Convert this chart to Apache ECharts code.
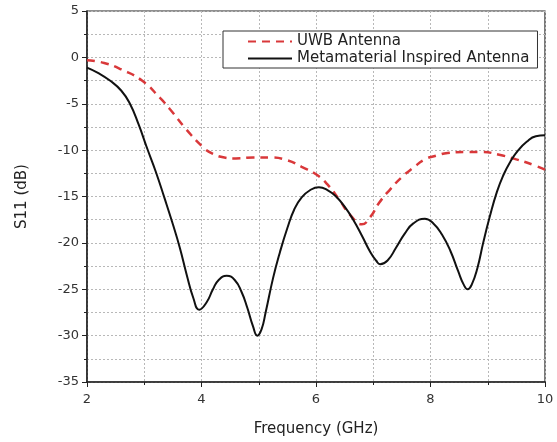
<!DOCTYPE html>
<html>
<head>
<meta charset="utf-8">
<script src="https://cdn.jsdelivr.net/npm/echarts@6/dist/echarts.min.js"></script>
<style>html,body{margin:0;padding:0;background:#fff;}#c{width:557px;height:442px;}</style>
</head>
<body>
<div id="c"></div>
<script>
var uwbFreq = [2.0,2.3,2.6,2.96,3.28,3.45,3.74,4.03,4.2,4.4,4.6,4.9,5.2,5.5,5.75,6.0,6.2,6.4,6.6,6.8,6.95,7.1,7.3,7.5,7.7,7.9,8.1,8.3,8.6,8.9,9.2,9.5,9.8,10.0];
var uwbS11 = [-0.3,-0.6,-1.3,-2.5,-4.4,-5.6,-7.8,-9.7,-10.4,-10.8,-10.9,-10.8,-10.8,-11.1,-11.8,-12.6,-13.7,-15.3,-17.0,-18.0,-17.2,-15.7,-14.2,-12.9,-11.9,-11.0,-10.6,-10.3,-10.2,-10.2,-10.5,-11.0,-11.6,-12.1];
var metaFreq = [2.0,2.2,2.4,2.6,2.75,2.9,3.05,3.2,3.35,3.5,3.62,3.74,3.86,3.96,4.09,4.2,4.3,4.44,4.58,4.7,4.8,4.9,4.975,5.05,5.12,5.25,5.37,5.5,5.62,5.75,5.9,6.05,6.2,6.35,6.5,6.65,6.8,6.95,7.05,7.12,7.25,7.4,7.55,7.7,7.9,8.05,8.2,8.35,8.48,8.58,8.65,8.72,8.82,8.92,9.03,9.16,9.28,9.39,9.52,9.68,9.84,10.0];
var metaS11 = [-1.1,-1.7,-2.5,-3.6,-5.0,-7.2,-9.8,-12.3,-15.1,-18.0,-20.5,-23.4,-26.0,-27.2,-26.4,-25.0,-24.0,-23.55,-24.0,-25.3,-27.0,-29.0,-30.0,-29.3,-27.5,-23.8,-21.0,-18.4,-16.4,-15.1,-14.3,-14.0,-14.3,-15.0,-16.1,-17.5,-19.2,-21.0,-21.9,-22.3,-21.9,-20.5,-19.0,-17.9,-17.4,-17.9,-19.1,-20.9,-23.0,-24.5,-25.0,-24.5,-22.7,-20.0,-17.3,-14.5,-12.6,-11.3,-10.1,-9.1,-8.5,-8.4];
var seriesNames = ['UWB Antenna','Metamaterial Inspired Antenna'];

function pairs(xs, ys){ return xs.map(function(x,i){ return [x, ys[i]]; }); }

var chart = echarts.init(document.getElementById('c'), null, {renderer:'canvas'});
var font = 'DejaVu Sans, Verdana, sans-serif';
var gridLine = {show:true,lineStyle:{color:'#b8b8b8',type:[2,2],width:1}};
chart.setOption({
  animation:false,
  backgroundColor:'#fff',
  textStyle:{fontFamily:font},
  grid:{left:87,right:12,top:11,bottom:58,show:true,borderColor:'#222',borderWidth:1.2,backgroundColor:'transparent'},
  legend:{
    show:true, orient:'vertical', left:223, top:31, width:316,
    backgroundColor:'#fff', borderColor:'#333', borderWidth:1,
    padding:[3,8,2,24], itemGap:2, itemWidth:44, itemHeight:17,
    itemStyle:{opacity:0},
    textStyle:{fontSize:15, color:'#222', fontFamily:font},
    data:[{name:seriesNames[0]},{name:seriesNames[1]}]
  },
  xAxis:{
    type:'value', min:2, max:10, interval:2,
    name:'Frequency (GHz)', nameLocation:'middle', nameGap:40,
    nameTextStyle:{fontSize:15,color:'#222',fontFamily:font},
    axisLine:{show:true,onZero:false,lineStyle:{color:'#222',width:1.5}},
    axisTick:{show:true,length:5,lineStyle:{color:'#222'}},
    minorTick:{show:true,splitNumber:2,length:3,lineStyle:{color:'#222'}},
    axisLabel:{fontSize:13,color:'#333',margin:11,fontFamily:font},
    splitLine:gridLine,
    minorSplitLine:gridLine
  },
  yAxis:{
    type:'value', min:-35, max:5, interval:5,
    name:'S11 (dB)', nameLocation:'middle', nameGap:57, nameRotate:90,
    nameTextStyle:{fontSize:15,color:'#222',fontFamily:font},
    axisLine:{show:true,onZero:false,lineStyle:{color:'#222',width:1.5}},
    axisTick:{show:true,length:5,lineStyle:{color:'#222'}},
    minorTick:{show:true,splitNumber:2,length:3,lineStyle:{color:'#222'}},
    axisLabel:{fontSize:13,color:'#333',margin:8,fontFamily:font},
    splitLine:gridLine,
    minorSplitLine:gridLine
  },
  series:[
    {name:seriesNames[0], type:'line', smooth:0.5, symbol:'none', data:pairs(uwbFreq, uwbS11),
     lineStyle:{color:'#d9383a', width:2.5, type:[8,6]}, itemStyle:{color:'#d9383a'}, z:3},
    {name:seriesNames[1], type:'line', smooth:0.5, symbol:'none', data:pairs(metaFreq, metaS11),
     lineStyle:{color:'#111', width:2}, itemStyle:{color:'#111'}, z:4}
  ]
});
</script>
</body>
</html>
